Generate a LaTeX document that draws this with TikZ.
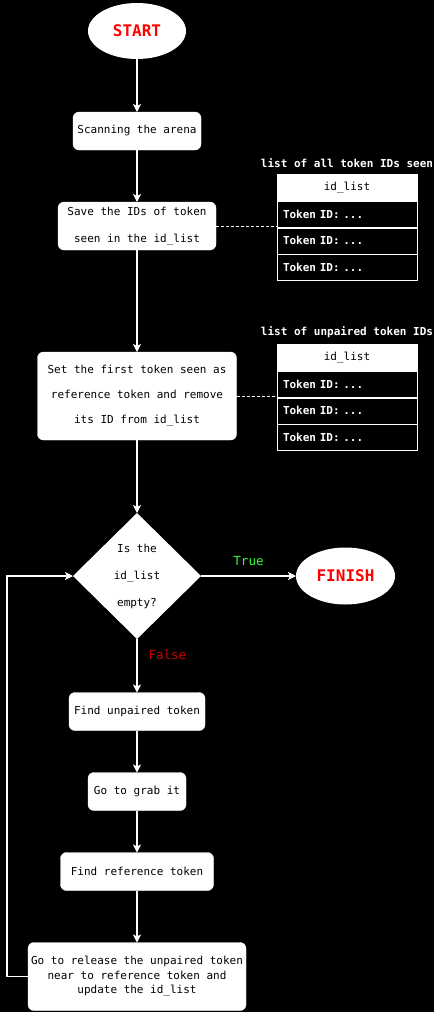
\documentclass[tikz,border=0pt]{standalone}
\usepackage{fontspec}
\setmonofont{DejaVu Sans Mono}
\usepackage{xcolor}
\usepackage{tikz}
\usetikzlibrary{shapes.geometric, arrows.meta, positioning, backgrounds}
\definecolor{termcolor}{RGB}{255,0,0}
\definecolor{truecolor}{RGB}{51,255,51}
\definecolor{falsecolor}{RGB}{204,0,0}

\begin{document}
\begin{tikzpicture}[
    x=1pt, y=1pt,
    box/.style={rectangle, draw=white, fill=white, rounded corners=6pt, minimum height=38pt, inner sep=0pt, outer sep=0pt, align=center, text=black, font=\ttfamily\fontsize{11}{14}\selectfont},
    term/.style={ellipse, fill=white, minimum width=98pt, minimum height=56pt, inner sep=0pt, outer sep=0pt, text=termcolor, font=\ttfamily\bfseries\fontsize{16}{18}\selectfont},
    decision/.style={diamond, fill=white, minimum width=128pt, minimum height=126pt, inner sep=0pt, outer sep=0pt, align=center, text=black, font=\ttfamily\fontsize{11}{14}\selectfont},
    head/.style={rectangle, draw=white, fill=white, minimum width=140pt, minimum height=27pt, inner sep=0pt, text=black, font=\ttfamily\fontsize{11}{13}\selectfont},
    row/.style={rectangle, draw=white, fill=black, text width=128pt, minimum height=26pt, inner xsep=6pt, inner ysep=0pt, align=left, text=white, font=\ttfamily\bfseries\fontsize{11}{13}\selectfont},
    arrow/.style={-{Stealth[length=8pt, width=8pt, inset=2pt]}, white, line width=1.2pt},
    link/.style={white, dash pattern=on 3pt off 2pt, line width=0.8pt},
    label/.style={inner sep=0pt, text=white, font=\ttfamily\bfseries\fontsize{11}{13}\selectfont},
    choice/.style={inner sep=0pt, font=\ttfamily\fontsize{12.5}{14}\selectfont}
]
\useasboundingbox[fill=black] (0,0) rectangle (434,-1012);

% Nodes
\node[term] (start) at (137,-31) {START};
\node[box, minimum width=128pt, below=53pt of start] (scan) {Scanning the arena};
\node[box, minimum width=158pt, minimum height=48pt, below=52pt of scan] (save) {Save the IDs of token\\[13pt]seen in the id\_list};
\node[box, minimum width=199pt, minimum height=88pt, below=102pt of save] (first) {Set the first token seen as\\[11pt]reference token and remove\\[11pt]its ID from id\_list};
\node[decision, below=73pt of first] (empty) {Is the\\[13pt]id\_list\\[13pt]empty?};
\node[term, minimum width=99pt, minimum height=57pt, right=95pt of empty] (finish) {FINISH};
\node[box, minimum width=136pt, below=53.5pt of empty] (unpaired) {Find unpaired token};
\node[box, minimum width=98pt, below=42pt of unpaired] (grab) {Go to grab it};
\node[box, minimum width=153pt, below=42pt of grab] (reference) {Find reference token};
\node[box, minimum width=218pt, minimum height=68pt, below=52pt of reference, font=\ttfamily\fontsize{11}{14.5}\selectfont] (release) {Go to release the unpaired token\\near to reference token and\\update the id\_list};

% Tables
\node[head] (seenhead) at (347,-187.5) {id\_list};
\node[row, below=0pt of seenhead] (seen1) {Token ID: ...};
\node[row, below=0pt of seen1] (seen2) {Token ID: ...};
\node[row, below=0pt of seen2] (seen3) {Token ID: ...};
\node[head] (pairhead) at (347,-357.5) {id\_list};
\node[row, below=0pt of pairhead] (pair1) {Token ID: ...};
\node[row, below=0pt of pair1] (pair2) {Token ID: ...};
\node[row, below=0pt of pair2] (pair3) {Token ID: ...};

% Arrows
\draw[arrow] (start) -- (scan);
\draw[arrow] (scan) -- (save);
\draw[arrow] (save) -- (first);
\draw[arrow] (first) -- (empty);
\draw[arrow] (empty) -- node[choice, midway, above=10pt, text=truecolor] {True} (finish);
\draw[arrow] (empty) -- node[choice, pos=0.3, right=11pt, text=falsecolor] {False} (unpaired);
\draw[arrow] (unpaired) -- (grab);
\draw[arrow] (grab) -- (reference);
\draw[arrow] (reference) -- (release);
\draw[arrow] (release.west) -- ++(-21pt,0) |- (empty.west);
\draw[link] (save.east) -- (save.east -| seen1.west);
\draw[link] (first.east) -- (first.east -| pair1.west);

% Labels
\node[label, above=6pt of seenhead] {list of all token IDs seen};
\node[label, above=6pt of pairhead] {list of unpaired token IDs};

\end{tikzpicture}
\end{document}
